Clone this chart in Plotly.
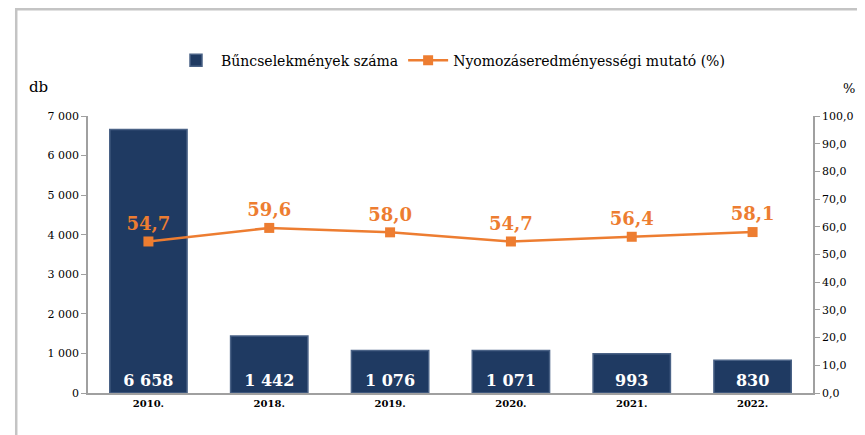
import plotly.graph_objects as go

years = ["2010.", "2018.", "2019.", "2020.", "2021.", "2022."]
crimes = [6658, 1442, 1076, 1071, 993, 830]
ratio = [54.7, 59.6, 58.0, 54.7, 56.4, 58.1]
left_ticks = [0, 1000, 2000, 3000, 4000, 5000, 6000, 7000]
right_ticks = [0, 10, 20, 30, 40, 50, 60, 70, 80, 90, 100]

FONT = "DejaVu Serif"
NAVY = "#1f3a62"
ORANGE = "#ed7d31"

fig = go.Figure()
fig.add_trace(go.Bar(
    x=years, y=crimes, name="Bűncselekmények száma",
    marker=dict(color=NAVY, line=dict(color="#4a6286", width=1.5)),
    texttemplate="<b>%{y:,.0f}</b>", textposition="inside", insidetextanchor="start",
    textfont=dict(color="white", size=16, family=FONT),
    textangle=0, cliponaxis=False,
))
fig.add_trace(go.Scatter(
    x=years, y=ratio, yaxis="y2", name="Nyomozáseredményességi mutató (%)",
    mode="lines+markers+text",
    line=dict(color=ORANGE, width=2.5),
    marker=dict(symbol="square", size=10, color=ORANGE),
    texttemplate="<b>%{y:.1f}</b>", textposition="top center",
    textfont=dict(color=ORANGE, size=18, family=FONT),
))

fig.update_layout(
    width=857, height=427,
    margin=dict(l=80, r=46, t=108, b=42),
    paper_bgcolor="white", plot_bgcolor="white",
    separators=", ",
    font=dict(family=FONT, size=11, color="black"),
    bargap=0.36,
    showlegend=True,
    legend=dict(orientation="h", x=0.5, xanchor="center", y=1.2, yanchor="middle",
                font=dict(size=14, family=FONT), itemwidth=40, traceorder="normal"),
    xaxis=dict(showline=True, linecolor="#a0a0a0", linewidth=1.5, ticks="",
               tickvals=years, ticktext=["<b>" + y + "</b>" for y in years],
               tickfont=dict(size=10, family=FONT), showgrid=False),
    yaxis=dict(range=[0, 7000], tickvals=left_ticks, tickformat=",.0f",
               showline=True, linecolor="#a0a0a0", linewidth=1.5, ticks="outside",
               tickcolor="#a0a0a0", ticklen=5, showgrid=False, zeroline=False,
               tickfont=dict(size=11, family=FONT)),
    yaxis2=dict(range=[0, 100], tickvals=right_ticks, tickformat=".1f",
                overlaying="y", side="right",
                showline=True, linecolor="#a0a0a0", linewidth=1.5, ticks="outside",
                tickcolor="#a0a0a0", ticklen=5, showgrid=False, zeroline=False,
                tickfont=dict(size=11, family=FONT)),
    shapes=[dict(type="rect", xref="paper", yref="paper",
                 x0=-0.099, x1=1.2, y0=-0.3, y1=1.385,
                 line=dict(color="#c4c4c4", width=2.5), fillcolor="rgba(0,0,0,0)",
                 layer="below")],
    annotations=[
        dict(text="db", xref="paper", yref="paper", x=-0.068, y=1.065,
             xanchor="center", yanchor="bottom", showarrow=False,
             font=dict(size=15, family=FONT)),
        dict(text="%", xref="paper", yref="paper", x=1.05, y=1.065,
             xanchor="center", yanchor="bottom", showarrow=False,
             font=dict(size=13, family=FONT)),
    ],
)

fig.write_html("out.html")
